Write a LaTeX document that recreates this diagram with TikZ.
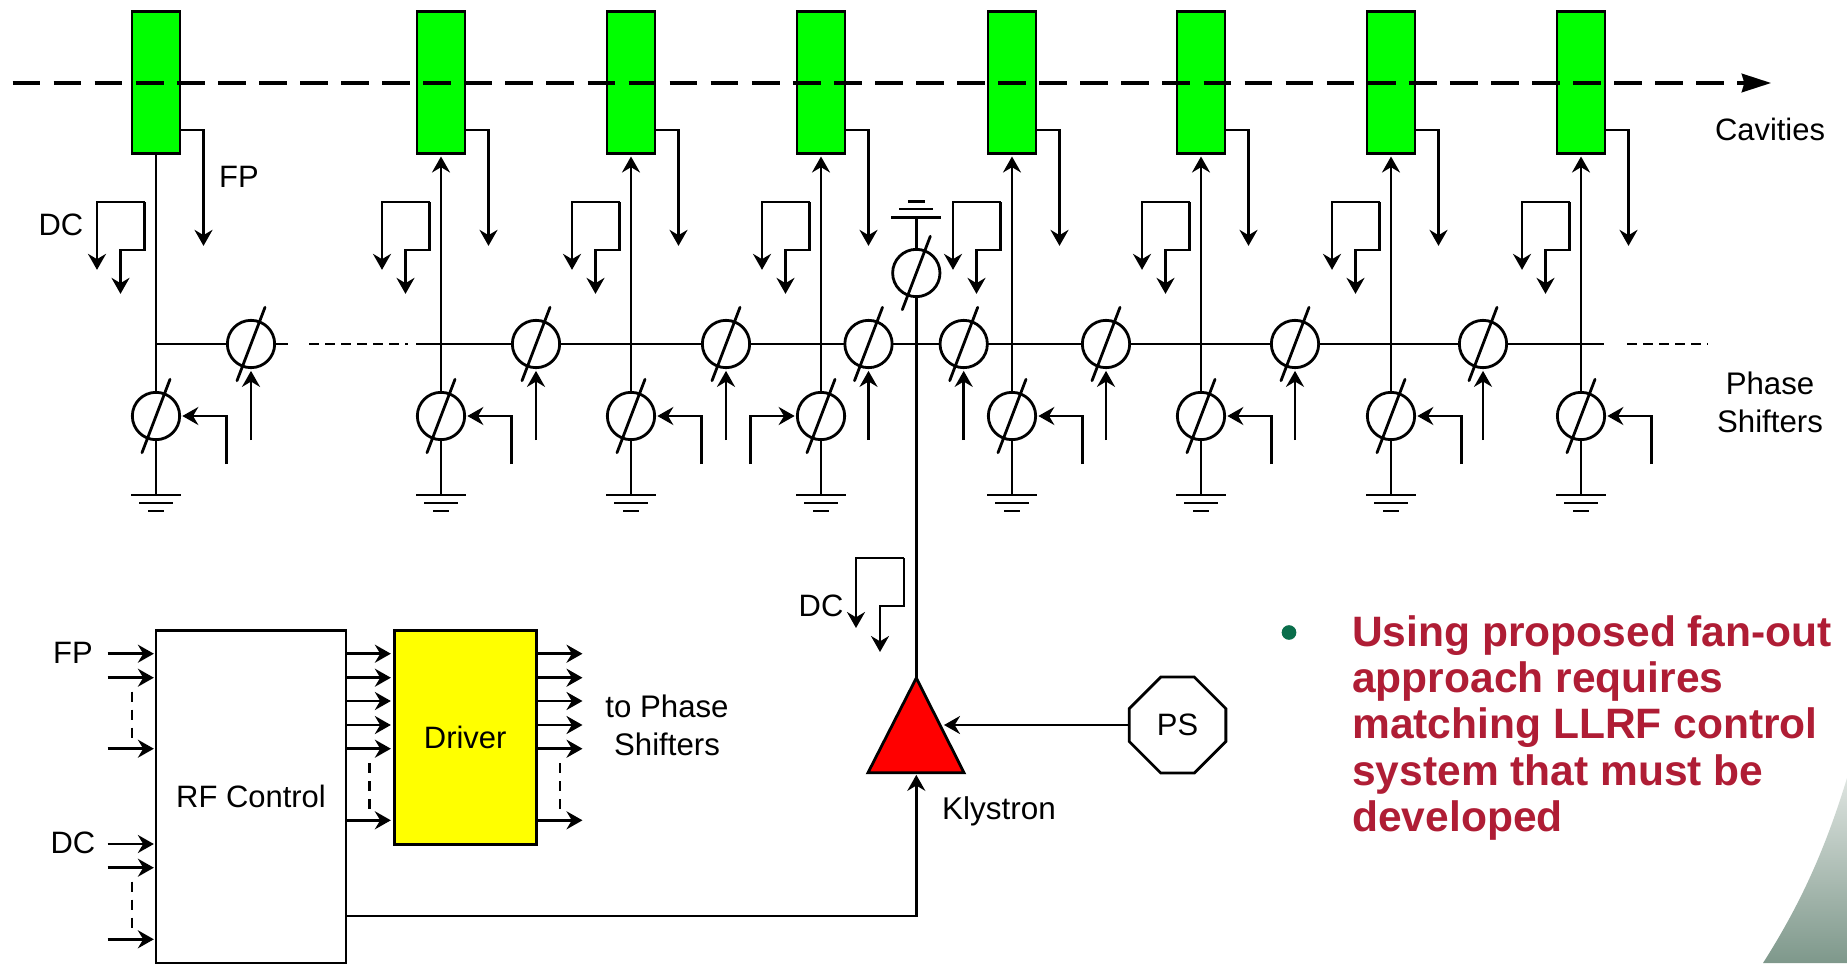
\documentclass[tikz,border=0pt]{standalone}
\usepackage{fontspec}
\setmainfont{Liberation Sans}
\usetikzlibrary{arrows.meta,calc,shapes.misc}
\definecolor{cavgreen}{RGB}{0,255,0}
\definecolor{drvyellow}{RGB}{255,255,0}
\definecolor{bulletred}{RGB}{175,29,53}
\definecolor{bulletgreen}{RGB}{10,110,75}
\definecolor{cornertop}{RGB}{222,228,224}
\definecolor{cornerbot}{RGB}{126,152,139}
\tikzset{
  wire/.style={line width=2.1pt,draw=black},
  arr/.style={wire,-{Stealth[length=12pt,width=13.5pt,inset=4pt]},shorten >=1.6pt},
  cavity/.style={draw=black,line width=2.2pt,fill=cavgreen,minimum width=36pt,minimum height=107pt,inner sep=0pt,outer sep=0pt},
  shifter/.style={circle,draw=black,line width=2.1pt,fill=white,minimum size=35.5pt,inner sep=0pt,outer sep=0pt},
  slashline/.style={wire,line cap=round},
  lbl/.style={font=\fontsize{23.2pt}{28.5pt}\selectfont,inner sep=0pt,align=center,text=black},
  box/.style={draw=black,line width=2.1pt,inner sep=0pt,outer sep=0pt,font=\fontsize{23.2pt}{28pt}\selectfont},
  beam/.style={line width=2.4pt,dash pattern=on 20.8pt off 10pt},
  stubdash/.style={line width=2.1pt,dash pattern=on 7.5pt off 4.5pt},
  vdash/.style={line width=2.2pt,dash pattern=on 7.5pt off 6pt}
}
\begin{document}
\begin{tikzpicture}[x=0.75pt,y=-0.75pt]
\useasboundingbox (0,0) rectangle (1847,963);
% corner swoosh
\path[top color=cornertop,bottom color=cornerbot] (1847,778) .. controls (1825,850) and (1800,905) .. (1763,963) -- (1847,963) -- cycle;
% cavity columns
\foreach \i/\x in {1/156,2/441,3/631,4/821,5/1012,6/1201,7/1391,8/1581}{
  \node[cavity] (cav\i) at (\x,82.5) {};
  \coordinate (fps\i) at (\x+24,130);
  \coordinate (fpm\i) at (\x+47.5,130);
  \coordinate (fpe\i) at (\x+47.5,248);
  \draw[arr] (fps\i) -- (fpm\i) -- (fpe\i);
  \coordinate (dca\i) at (\x-59,272);
  \coordinate (dcb\i) at (\x-59,202);
  \coordinate (dcc\i) at (\x-11.5,202);
  \coordinate (dcd\i) at (\x-11.5,250);
  \coordinate (dce\i) at (\x-35.5,250);
  \coordinate (dcf\i) at (\x-35.5,296);
  \draw[arr] (dcc\i) -- (dcb\i) -- (dca\i);
  \draw[arr] (dcc\i) -- (dcd\i) -- (dce\i) -- (dcf\i);
  \coordinate (bus\i) at (\x,344);
  \coordinate (gnd\i) at (\x,495);
}
% bus
\coordinate (busa) at (156,344);
\coordinate (busb) at (288,344);
\coordinate (busc) at (309,344);
\coordinate (busd) at (408,344);
\coordinate (buse) at (416,344);
\coordinate (busf) at (1604,344);
\coordinate (busg) at (1627,344);
\coordinate (bush) at (1708,344);
\draw[wire] (busa) -- (busb);
\draw[stubdash] (busc) -- (busd);
\draw[wire] (buse) -- (busf);
\draw[stubdash] (busg) -- (bush);
% lower shifters, grounds, feeds
\foreach \i/\x/\s in {1/156/1,2/441/1,3/631/1,4/821/-1,5/1012/1,6/1201/1,7/1391/1,8/1581/1}{
  \node[shifter] (low\i) at (\x,416) {};
  \draw[wire] (low\i.south) -- (gnd\i);
  \draw[wire] ($(gnd\i)+(-25,0)$) -- ($(gnd\i)+(25,0)$);
  \draw[wire] ($(gnd\i)+(-17,8)$) -- ($(gnd\i)+(17,8)$);
  \draw[wire] ($(gnd\i)+(-8,16)$) -- ($(gnd\i)+(8,16)$);
  \coordinate (lowa\i) at (\x+\s*70.5,464);
  \coordinate (lowb\i) at (\x+\s*70.5,416);
  \draw[arr,shorten >=2pt] (lowa\i) -- (lowb\i) -- (low\i);
  \draw[slashline] ($(low\i)+(-14,36.7)$) -- ($(low\i)+(14,-36.7)$);
}
\draw[wire] (cav1.south) -- (low1.north);
\foreach \i in {2,...,8}{
  \draw[arr,shorten >=2pt] (low\i.north) -- (cav\i.south);
}
% bus shifters
\foreach \i/\x in {1/251,2/536,3/726,4/868.5,5/963.7,6/1106,7/1295,8/1483}{
  \node[shifter] (ser\i) at (\x,344) {};
  \coordinate (sera\i) at (\x,440);
  \draw[arr,shorten >=2.4pt] (sera\i) -- (ser\i.south);
  \draw[slashline] ($(ser\i)+(-14,36.7)$) -- ($(ser\i)+(14,-36.7)$);
}
% klystron feed
\coordinate (topgnd) at (916.3,217.5);
\coordinate (kapex) at (916.3,678);
\coordinate (kleft) at (868,772.7);
\coordinate (kright) at (964,772.7);
\coordinate (kbase) at (916.3,772.7);
\coordinate (kside) at (940,725);
\draw[wire] (topgnd) -- (kapex);
\node[shifter] (top) at (916.3,273) {};
\draw[slashline] ($(top)+(-14,36.7)$) -- ($(top)+(14,-36.7)$);
\draw[wire] ($(topgnd)+(-25,0)$) -- ($(topgnd)+(25,0)$);
\draw[wire] ($(topgnd)+(-17,-8.5)$) -- ($(topgnd)+(17,-8.5)$);
\draw[wire] ($(topgnd)+(-8.5,-16)$) -- ($(topgnd)+(8.5,-16)$);
\draw[wire,fill=red,line join=miter] (kapex) -- (kright) -- (kleft) -- cycle;
% beam
\coordinate (beama) at (12.6,83);
\coordinate (beamb) at (1745,83);
\coordinate (beamc) at (1771,83);
\draw[beam] (beama) -- (beamb);
\draw[line width=2.2pt,-{Stealth[length=22pt,width=14pt,inset=2pt]}] (1742,83) -- (beamc);
% klystron DC tap
\coordinate (kda) at (856,628);
\coordinate (kdb) at (856,558);
\coordinate (kdc) at (904,558);
\coordinate (kdd) at (904,606);
\coordinate (kde) at (880,606);
\coordinate (kdf) at (880,652);
\draw[arr,shorten >=0pt] (kdc) -- (kdb) -- (kda);
\draw[arr,shorten >=0pt] (kdc) -- (kdd) -- (kde) -- (kdf);
% PS
\node[box,chamfered rectangle,chamfered rectangle xsep=18pt,chamfered rectangle ysep=18pt,minimum width=72.5pt,minimum height=72pt] (ps) at (1177.5,725) {PS};
\draw[arr,shorten >=3pt] (ps.west |- 0,725) -- (kside);
% boxes
\node[box,fill=white,minimum width=142.5pt,minimum height=249.5pt] (rf) at (251,797) {};
\node[box,fill=drvyellow,minimum width=106.5pt,minimum height=160.5pt] (drv) at (465.2,737.5) {};
\node[lbl] (rft) at (251,796) {RF Control};
\node[lbl] (drvt) at (465.2,737) {Driver};
% input arrows
\foreach \n/\y in {a/653.7,b/677.7,c/748.7,d/844,e/867.7,f/939.3}{
  \coordinate (in\n) at (107.7,\y);
  \draw[arr] (in\n) -- (rf.west |- in\n);
}
% rf to driver
\foreach \n/\y in {a/653.7,b/677.7,c/701,d/725,e/748.7,f/820.3}{
  \coordinate (m\n) at (346,\y);
  \draw[arr,shorten >=2.5pt] (m\n) -- (drv.west |- m\n);
  \coordinate (o\n) at (536,\y);
  \coordinate (q\n) at (582.5,\y);
  \draw[arr,shorten >=0pt] (o\n) -- (q\n);
}
% dashed continuation
\coordinate (da1) at (132,691.7); \coordinate (da2) at (132,738);
\coordinate (db1) at (132,881.7); \coordinate (db2) at (132,928);
\coordinate (dc1) at (369.6,763); \coordinate (dc2) at (369.6,810);
\coordinate (dd1) at (560,763); \coordinate (dd2) at (560,810);
\draw[vdash] (da1) -- (da2);
\draw[vdash] (db1) -- (db2);
\draw[vdash] (dc1) -- (dc2);
\draw[vdash] (dd1) -- (dd2);
% control to klystron
\coordinate (ctl) at (346,916);
\coordinate (ctm) at (916.3,916);
\draw[arr] (ctl) -- (ctm) -- (kbase);
% labels
\node[lbl] (lcav) at (1770,129.5) {Cavities};
\node[lbl] (lfp) at (239,177) {FP};
\node[lbl] (ldc) at (61,224.5) {DC};
\node[lbl,font=\fontsize{23.4pt}{28.5pt}\selectfont] (lps) at (1770,402.5) {Phase\\Shifters};
\node[lbl] (lfp2) at (73,653) {FP};
\node[lbl] (ldc2) at (73,843) {DC};
\node[lbl,font=\fontsize{23.4pt}{28.5pt}\selectfont] (lto) at (667,725) {to Phase\\Shifters};
\node[lbl,font=\fontsize{23.6pt}{28.5pt}\selectfont] (lkl) at (999,811) {Klystron};
\node[lbl] (ldc3) at (821,605.5) {DC};
% bullet
\node[circle,fill=bulletgreen,minimum size=11pt,inner sep=0pt] (bul) at (1289,632.5) {};
\node[anchor=north west,inner sep=0pt,align=left,text=bulletred,font=\fontsize{31.9pt}{34.8pt}\selectfont\bfseries] (btext) at (1352,615)
  {Using proposed fan-out\\approach requires\\matching LLRF control\\system that must be\\developed};
\end{tikzpicture}
\end{document}
